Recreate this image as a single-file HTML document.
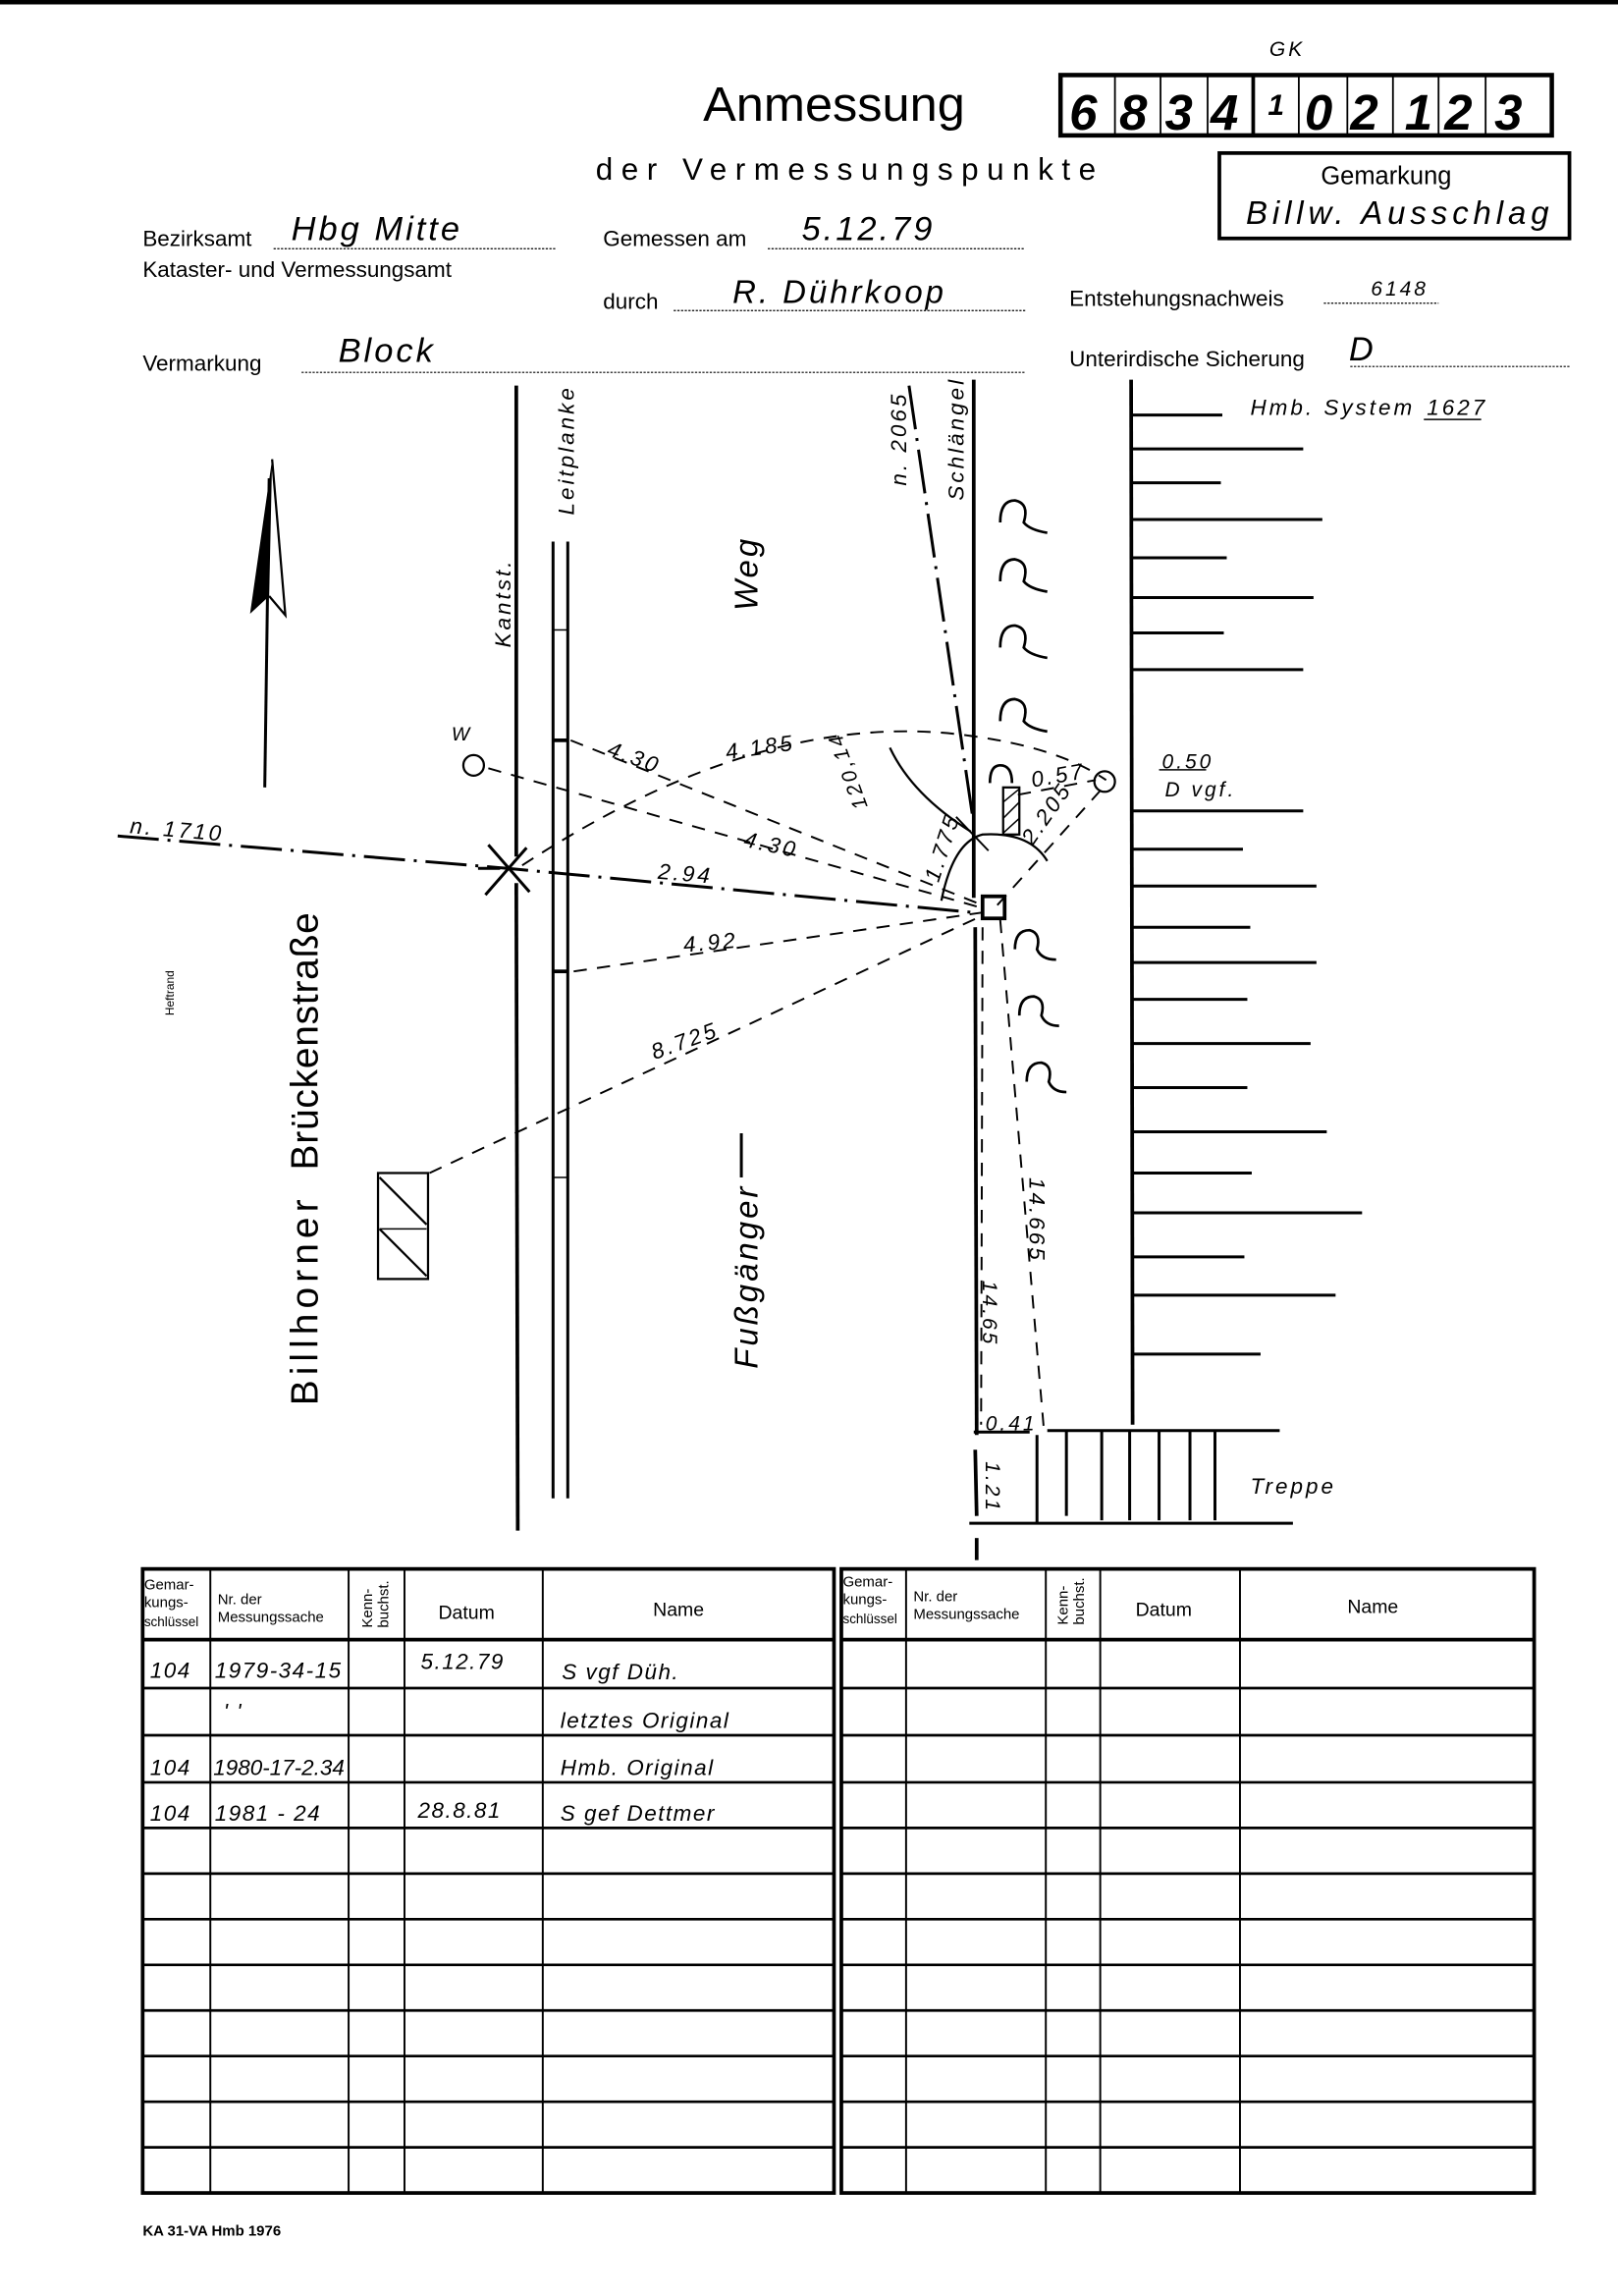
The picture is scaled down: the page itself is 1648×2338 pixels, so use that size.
<!DOCTYPE html>
<html><head><meta charset="utf-8"><style>
html,body{margin:0;padding:0;background:#fff}
svg{display:block}
text{font-family:"Liberation Sans",sans-serif;fill:#000}
.h{font-style:italic;letter-spacing:2px}
.t{font-style:italic;letter-spacing:1px}
</style></head><body>
<svg width="1648" height="2338" viewBox="0 0 1100 1560" preserveAspectRatio="none" xmlns="http://www.w3.org/2000/svg">
<rect x="0" y="0" width="1100" height="1560" fill="#fff"/>
<rect x="0" y="0" width="1100" height="3" fill="#000"/>

<!-- header -->
<text x="863" y="38" font-size="14" class="h">GK</text>
<text x="478" y="82" font-size="33" textLength="178" lengthAdjust="spacingAndGlyphs">Anmessung</text>
<rect x="721" y="51" width="334" height="41" fill="none" stroke="#000" stroke-width="3"/>
<g stroke="#000" stroke-width="1.2">
<line x1="758" y1="52" x2="758" y2="91"/><line x1="789" y1="52" x2="789" y2="91"/><line x1="821" y1="52" x2="821" y2="91"/><line x1="852" y1="52" x2="852" y2="91" stroke-width="2.5"/><line x1="883" y1="52" x2="883" y2="91"/><line x1="916" y1="52" x2="916" y2="91"/><line x1="947" y1="52" x2="947" y2="91"/><line x1="978" y1="52" x2="978" y2="91"/><line x1="1010" y1="52" x2="1010" y2="91"/>
</g>
<g font-size="34" font-weight="bold" font-style="italic">
<text x="727" y="88">6</text><text x="761" y="88">8</text><text x="792" y="88">3</text><text x="823" y="88">4</text><text x="862" y="78" font-size="20">1</text><text x="887" y="88">0</text><text x="918" y="88">2</text><text x="955" y="88">1</text><text x="982" y="88">2</text><text x="1016" y="88">3</text>
</g>
<text x="405" y="122" font-size="21" textLength="340" lengthAdjust="spacing">der Vermessungspunkte</text>
<rect x="829" y="104" width="238" height="58" fill="none" stroke="#000" stroke-width="2.5"/>
<text x="898" y="125" font-size="17">Gemarkung</text>
<text x="847" y="152" font-size="22" class="h" textLength="208">Billw. Ausschlag</text>

<g font-size="15">
<text x="97" y="167">Bezirksamt</text>
<text x="97" y="188">Kataster- und Vermessungsamt</text>
<text x="410" y="167">Gemessen am</text>
<text x="410" y="210">durch</text>
<text x="727" y="208">Entstehungsnachweis</text>
<text x="97" y="252">Vermarkung</text>
<text x="727" y="249">Unterirdische Sicherung</text>
</g>
<g stroke="#000" stroke-width="0.8" stroke-dasharray="1.5 1">
<line x1="186" y1="169" x2="378" y2="169"/><line x1="522" y1="169" x2="697" y2="169"/><line x1="458" y1="211" x2="697" y2="211"/><line x1="900" y1="206" x2="978" y2="206"/><line x1="205" y1="253" x2="697" y2="253"/><line x1="918" y1="249" x2="1068" y2="249"/>
</g>
<g class="h">
<text x="198" y="163" font-size="23">Hbg  Mitte</text>
<text x="545" y="163" font-size="23">5.12.79</text>
<text x="498" y="206" font-size="22">R. Dührkoop</text>
<text x="932" y="201" font-size="14">6148</text>
<text x="230" y="246" font-size="23">Block</text>
<text x="917" y="245" font-size="23">D</text>
<text x="850" y="282" font-size="15">Hmb. System</text>
<text x="970" y="282" font-size="15">1627</text>
</g>
<line x1="968" y1="285" x2="1007" y2="285" stroke="#000"/>

<!-- north arrow -->
<line x1="183" y1="325" x2="180" y2="535" stroke="#000" stroke-width="2"/>
<polygon points="185,312 170,417 183,405" fill="#000"/>
<polyline points="185,312 194,418 183,405" fill="none" stroke="#000" stroke-width="1.5"/>

<text transform="translate(118,690) rotate(-90)" font-size="8">Heftrand</text>
<text transform="translate(216,955) rotate(-90)" font-size="26" textLength="140">Billhorner</text>
<text transform="translate(216,795) rotate(-90)" font-size="26" textLength="175">Brückenstraße</text>
<text transform="translate(347,440) rotate(-90)" font-size="15" class="h">Kantst.</text>
<text transform="translate(390,350) rotate(-90)" font-size="15" class="h">Leitplanke</text>
<text transform="translate(515,415) rotate(-90)" font-size="22" class="h">Weg</text>
<text transform="translate(515,930) rotate(-90)" font-size="22" class="h">Fußgänger</text>
<line x1="504" y1="800" x2="504" y2="770" stroke="#000" stroke-width="2"/>

<g stroke="#000" fill="none">
<line x1="351" y1="262" x2="351" y2="582" stroke-width="2.5"/>
<line x1="351" y1="600" x2="352" y2="1040" stroke-width="2.5"/>
<line x1="376" y1="368" x2="376" y2="1018" stroke-width="2"/>
<line x1="386" y1="368" x2="386" y2="1018" stroke-width="2"/>
<line x1="376" y1="503" x2="386" y2="503" stroke-width="2.5"/>
<line x1="376" y1="660" x2="386" y2="660" stroke-width="2.5"/>
<line x1="376" y1="428" x2="386" y2="428" stroke-width="1"/>
<line x1="376" y1="800" x2="386" y2="800" stroke-width="1"/>
<g stroke-width="2"><line x1="330" y1="608" x2="358" y2="576"/><line x1="332" y1="574" x2="360" y2="606"/><line x1="325" y1="590" x2="340" y2="590"/></g>
<path d="M80 568 L345 590 L662 620" stroke-width="2" stroke-dasharray="28 6 2 6"/>
<rect x="257" y="797" width="34" height="72" stroke-width="1.5"/>
<line x1="258" y1="800" x2="290" y2="832" stroke-width="1.5"/><line x1="258" y1="835" x2="290" y2="867" stroke-width="1.5"/><line x1="258" y1="835" x2="290" y2="835" stroke-width="1"/>
<circle cx="322" cy="520" r="7" stroke-width="1.5"/>
<g stroke-width="1.3" stroke-dasharray="9 7">
<line x1="388" y1="503" x2="668" y2="615"/>
<line x1="332" y1="522" x2="668" y2="617"/>
<line x1="390" y1="660" x2="668" y2="620"/>
<line x1="292" y1="797" x2="668" y2="622"/>
<path d="M355 588 Q520 480 660 500 Q720 508 752 530"/>
<line x1="680" y1="625" x2="710" y2="975"/>
<line x1="668" y1="630" x2="667" y2="968"/>
<line x1="678" y1="615" x2="750" y2="535"/>
<line x1="692" y1="540" x2="745" y2="530"/>
</g>
<path d="M618 262 L662 560" stroke-width="2" stroke-dasharray="30 6 2 6"/>
<line x1="662" y1="258" x2="662" y2="610" stroke-width="2.5"/>
<line x1="663" y1="630" x2="664" y2="975" stroke-width="2.5"/>
<line x1="663" y1="985" x2="664" y2="1030" stroke-width="2.5"/>
<line x1="664" y1="1045" x2="664" y2="1060" stroke-width="2.5"/>
<line x1="769" y1="258" x2="770" y2="968" stroke-width="2.5"/>
<rect x="668" y="609" width="15" height="15" stroke-width="2.5"/>
<circle cx="751" cy="531" r="7" stroke-width="1.5"/>
<path d="M640 612 Q648 572 668 567 Q700 565 712 585" stroke-width="1.5"/>
<path d="M660 565 Q620 540 605 508" stroke-width="1.5"/>
<line x1="650" y1="555" x2="672" y2="578" stroke-width="1.3"/>
<rect x="682" y="535" width="11" height="32" stroke-width="1.5"/>
<line x1="682" y1="545" x2="693" y2="536" stroke-width="1"/><line x1="682" y1="556" x2="693" y2="545" stroke-width="1"/><line x1="682" y1="566" x2="693" y2="556" stroke-width="1"/>
<g stroke-width="1.8">
<path d="M680 355 Q680 340 690 340 Q700 342 696 355 Q700 360 712 362"/>
<path d="M680 395 Q680 380 690 380 Q700 382 696 395 Q700 400 712 402"/>
<path d="M680 440 Q680 425 690 425 Q700 427 696 440 Q700 445 712 447"/>
<path d="M680 490 Q680 475 690 475 Q700 477 696 490 Q700 495 712 497"/>
<path d="M673 532 Q673 520 680 520 Q688 520 688 532"/>
<path d="M690 645 Q690 632 700 632 Q708 634 705 645 Q708 652 718 652"/>
<path d="M693 690 Q693 677 703 677 Q711 679 708 690 Q711 697 720 697"/>
<path d="M698 735 Q698 722 708 722 Q716 724 713 735 Q716 742 725 742"/>
</g>
<g stroke-width="2">
<line x1="770" y1="282" x2="831" y2="282"/><line x1="770" y1="305" x2="886" y2="305"/><line x1="770" y1="328" x2="830" y2="328"/><line x1="770" y1="353" x2="899" y2="353"/><line x1="770" y1="379" x2="834" y2="379"/><line x1="770" y1="406" x2="893" y2="406"/><line x1="770" y1="430" x2="832" y2="430"/><line x1="770" y1="455" x2="886" y2="455"/>
<line x1="770" y1="551" x2="886" y2="551"/><line x1="770" y1="577" x2="845" y2="577"/><line x1="770" y1="602" x2="895" y2="602"/><line x1="770" y1="630" x2="850" y2="630"/><line x1="770" y1="654" x2="895" y2="654"/><line x1="770" y1="679" x2="848" y2="679"/><line x1="770" y1="709" x2="891" y2="709"/><line x1="770" y1="739" x2="848" y2="739"/><line x1="770" y1="769" x2="902" y2="769"/><line x1="770" y1="797" x2="851" y2="797"/><line x1="770" y1="824" x2="926" y2="824"/><line x1="770" y1="854" x2="846" y2="854"/><line x1="770" y1="880" x2="908" y2="880"/><line x1="770" y1="920" x2="857" y2="920"/>
</g>
<g stroke-width="2">
<line x1="662" y1="973" x2="700" y2="973"/>
<line x1="712" y1="972" x2="870" y2="972"/>
<line x1="659" y1="1035" x2="879" y2="1035"/>
<line x1="705" y1="975" x2="705" y2="1035"/><line x1="725" y1="972" x2="725" y2="1030"/><line x1="749" y1="972" x2="749" y2="1033"/><line x1="768" y1="972" x2="768" y2="1033"/><line x1="788" y1="972" x2="788" y2="1033"/><line x1="809" y1="972" x2="809" y2="1033"/><line x1="826" y1="972" x2="826" y2="1033"/>
</g>
</g>
<text x="850" y="1015" font-size="15" class="h">Treppe</text>

<g class="h" font-size="15">
<text x="88" y="566" transform="rotate(5 88 566)">n. 1710</text>
<text x="307" y="503" font-size="13">W</text>
<text x="412" y="513" transform="rotate(20 412 513)">4.30</text>
<text x="494" y="516" transform="rotate(-8 494 516)">4.185</text>
<text x="505" y="575" transform="rotate(12 505 575)">4.30</text>
<text x="447" y="597" transform="rotate(5 447 597)">2.94</text>
<text x="465" y="647" transform="rotate(-5 465 647)">4.92</text>
<text x="445" y="720" transform="rotate(-20 445 720)">8.725</text>
<text x="590" y="548" transform="rotate(-110 590 548)" font-size="14">120,14</text>
<text x="638" y="600" transform="rotate(-72 638 600)">1.775</text>
<text x="702" y="575" transform="rotate(-55 702 575)">2.205</text>
<text x="702" y="535" transform="rotate(-10 702 535)">0.57</text>
<text x="790" y="522" font-size="14">0.50</text>
<text x="792" y="541" font-size="14">D  vgf.</text>
<text x="700" y="800" transform="rotate(90 700 800)">14.665</text>
<text x="668" y="870" transform="rotate(90 668 870)" font-size="14">14.65</text>
<text x="670" y="972" font-size="14">0.41</text>
<text x="670" y="993" transform="rotate(90 670 993)" font-size="14">1.21</text>
<text x="616" y="330" transform="rotate(-90 616 330)">n. 2065</text>
<text x="655" y="340" transform="rotate(-90 655 340)">Schlängel</text>
</g>
<line x1="788" y1="523" x2="820" y2="523" stroke="#000"/>

<!-- Tables -->
<g stroke="#000" fill="none">
<rect x="97" y="1066" width="470" height="424" stroke-width="2.5"/>
<rect x="572" y="1066" width="471" height="424" stroke-width="2.5"/>
<g stroke-width="2.5">
<line x1="97" y1="1114" x2="567" y2="1114"/><line x1="572" y1="1114" x2="1043" y2="1114"/>
</g>
<g stroke-width="1.8">
<line x1="97" y1="1147" x2="567" y2="1147"/><line x1="97" y1="1179" x2="567" y2="1179"/><line x1="97" y1="1211" x2="567" y2="1211"/><line x1="97" y1="1242" x2="567" y2="1242"/><line x1="97" y1="1273" x2="567" y2="1273"/><line x1="97" y1="1304" x2="567" y2="1304"/><line x1="97" y1="1335" x2="567" y2="1335"/><line x1="97" y1="1366" x2="567" y2="1366"/><line x1="97" y1="1397" x2="567" y2="1397"/><line x1="97" y1="1428" x2="567" y2="1428"/><line x1="97" y1="1459" x2="567" y2="1459"/>
<line x1="572" y1="1147" x2="1043" y2="1147"/><line x1="572" y1="1179" x2="1043" y2="1179"/><line x1="572" y1="1211" x2="1043" y2="1211"/><line x1="572" y1="1242" x2="1043" y2="1242"/><line x1="572" y1="1273" x2="1043" y2="1273"/><line x1="572" y1="1304" x2="1043" y2="1304"/><line x1="572" y1="1335" x2="1043" y2="1335"/><line x1="572" y1="1366" x2="1043" y2="1366"/><line x1="572" y1="1397" x2="1043" y2="1397"/><line x1="572" y1="1428" x2="1043" y2="1428"/><line x1="572" y1="1459" x2="1043" y2="1459"/>
</g>
<g stroke-width="1.3">
<line x1="143" y1="1066" x2="143" y2="1490"/><line x1="237" y1="1066" x2="237" y2="1490"/><line x1="275" y1="1066" x2="275" y2="1490"/><line x1="369" y1="1066" x2="369" y2="1490"/>
<line x1="616" y1="1066" x2="616" y2="1490"/><line x1="711" y1="1066" x2="711" y2="1490"/><line x1="748" y1="1066" x2="748" y2="1490"/><line x1="843" y1="1066" x2="843" y2="1490"/>
</g>
</g>
<g font-size="10">
<text x="98" y="1080">Gemar-</text><text x="98" y="1092">kungs-</text><text x="98" y="1105" font-size="9">schlüssel</text>
<text x="148" y="1090">Nr. der</text><text x="148" y="1102">Messungssache</text>
<text transform="translate(253,1106) rotate(-90)">Kenn-</text><text transform="translate(264,1106) rotate(-90)">buchst.</text>
<text x="298" y="1100" font-size="13">Datum</text><text x="444" y="1098" font-size="13">Name</text>
<text x="573" y="1078">Gemar-</text><text x="573" y="1090">kungs-</text><text x="573" y="1103" font-size="9">schlüssel</text>
<text x="621" y="1088">Nr. der</text><text x="621" y="1100">Messungssache</text>
<text transform="translate(726,1104) rotate(-90)">Kenn-</text><text transform="translate(737,1104) rotate(-90)">buchst.</text>
<text x="772" y="1098" font-size="13">Datum</text><text x="916" y="1096" font-size="13">Name</text>
</g>
<g class="t" font-size="15">
<text x="102" y="1140">104</text><text x="146" y="1140">1979-34-15</text><text x="286" y="1134">5.12.79</text><text x="382" y="1141">S vgf Düh.</text>
<text x="152" y="1168">'    '</text><text x="381" y="1174">letztes Original</text>
<text x="102" y="1206">104</text><text x="145" y="1206" letter-spacing="0">1980-17-2.34</text><text x="381" y="1206">Hmb.   Original</text>
<text x="102" y="1237">104</text><text x="146" y="1237">1981 - 24</text><text x="284" y="1235">28.8.81</text><text x="381" y="1237">S gef  Dettmer</text>
</g>
<text x="97" y="1519" font-size="10" font-weight="bold">KA 31-VA Hmb 1976</text>
</svg>
</body></html>
